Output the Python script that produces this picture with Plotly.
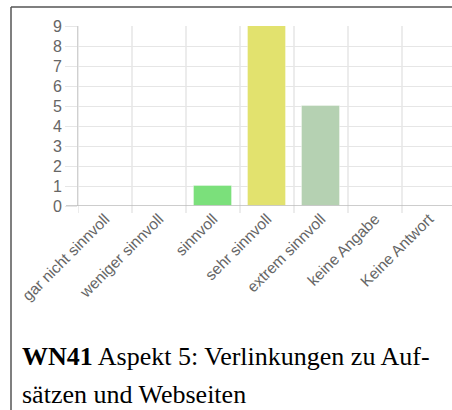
import plotly.graph_objects as go

categories = ["gar nicht sinnvoll", "weniger sinnvoll", "sinnvoll", "sehr sinnvoll",
              "extrem sinnvoll", "keine Angabe", "Keine Antwort"]
counts = [0, 0, 1, 9, 5, 0, 0]
bar_colors = ["#7be07b", "#7be07b", "#7be07b", "#e2e26e", "#b5d1b2", "#cccccc", "#cccccc"]
y_ticks = [0, 1, 2, 3, 4, 5, 6, 7, 8, 9]
caption_bold = "WN41"
caption_line1 = " Aspekt 5: Verlinkungen zu Auf-"
caption_line2 = "sätzen und Webseiten"

W, H = 452, 410
left, top, bottom_px = 78, 26, 206
plot_w = W - left
plot_h = bottom_px - top
cat_px = 54


def px_x(px):
    return (px - left) / plot_w


def px_y(py):
    return (bottom_px - py) / plot_h


fig = go.Figure(go.Bar(
    x=list(range(len(categories))),
    y=counts,
    width=0.72,
    marker=dict(color=bar_colors, line=dict(color="rgba(255,255,255,0.35)", width=1)),
    hoverinfo="x+y",
))

fig.update_layout(
    width=W, height=H,
    margin=dict(l=left, r=0, t=top, b=H - bottom_px, pad=0),
    paper_bgcolor="white", plot_bgcolor="white",
    showlegend=False,
    font=dict(family="Liberation Sans, Arial", color="#666666", size=15),
    bargap=0,
)

fig.update_xaxes(
    range=[-0.5, -0.5 + plot_w / cat_px],
    tickmode="array",
    tickvals=list(range(len(categories))),
    ticktext=categories,
    tickangle=-45,
    tickfont=dict(size=15.5, color="#666666"),
    showgrid=False,
    zeroline=False,
    showline=False,
    ticks="",
)
fig.update_yaxes(
    range=[0, 9],
    tickmode="array",
    tickvals=y_ticks,
    showgrid=True, gridcolor="#e6e6e6", gridwidth=1,
    zeroline=False,
    showline=True, linecolor="#d0d0d0", linewidth=1,
    ticks="outside", ticklen=12, tickcolor="#e6e6e6",
    tickfont=dict(size=16, color="#666666"),
)

# vertical grid lines at category boundaries, extending a little below the axis
shapes = []
for i in range(len(categories)):
    shapes.append(dict(type="line", xref="x", yref="paper",
                       x0=i - 0.5, x1=i - 0.5, y0=-7 / plot_h, y1=1,
                       line=dict(color="#e6e6e6", width=1.5), layer="below"))
# base line at zero
shapes.append(dict(type="line", xref="paper", yref="y", x0=-12 / plot_w, x1=1, y0=0, y1=0,
                   line=dict(color="#bdbdbd", width=1.5)))
# frame of the figure box
shapes.append(dict(type="line", xref="paper", yref="paper",
                   x0=px_x(11), x1=px_x(11), y0=px_y(412), y1=px_y(7),
                   line=dict(color="#555555", width=1.5)))
shapes.append(dict(type="line", xref="paper", yref="paper",
                   x0=px_x(11), x1=px_x(454), y0=px_y(7), y1=px_y(7),
                   line=dict(color="#555555", width=1.5)))
fig.update_layout(shapes=shapes)

fig.add_annotation(
    xref="paper", yref="paper", x=px_x(20), y=px_y(356),
    xanchor="left", yanchor="middle", showarrow=False,
    text="<b>" + caption_bold + "</b>" + caption_line1,
    font=dict(family="Liberation Serif, Times New Roman", size=26, color="#000000"),
)
fig.add_annotation(
    xref="paper", yref="paper", x=px_x(20), y=px_y(395),
    xanchor="left", yanchor="middle", showarrow=False,
    text=caption_line2,
    font=dict(family="Liberation Serif, Times New Roman", size=26, color="#000000"),
)

# page body has a default 8px margin; drop it so the figure fills the window
fig.write_html("out.html", config={"displayModeBar": False},
               post_script="document.body.style.margin='0';")
